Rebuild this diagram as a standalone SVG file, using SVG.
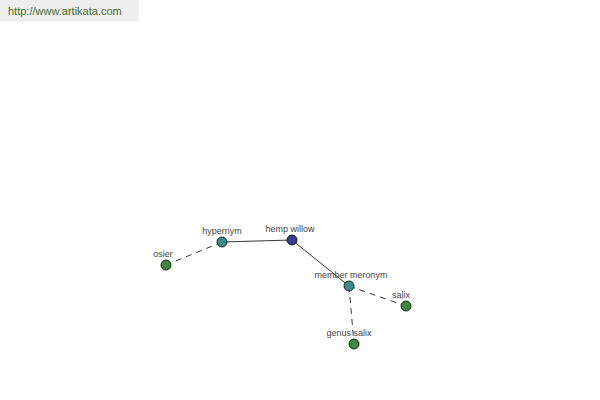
<svg xmlns="http://www.w3.org/2000/svg" width="600" height="400" viewBox="0 0 600 400">
<style>
.lbl{font-family:"Liberation Sans",Arial,sans-serif;font-size:9px;fill:#444;text-anchor:middle}
.e{stroke:#000;stroke-width:0.8;fill:none}
.d{stroke-dasharray:6,5}
.n{stroke:#000;stroke-width:0.8}
.root{fill:#3c3c8e}
.mid{fill:#3c8c8c}
.leaf{fill:#3c8a3c}
</style>
<rect x="0" y="0" width="139" height="21" fill="#eeeeee"/>
<text x="8" y="15" style="font-family:'Liberation Sans',Arial,sans-serif;font-size:11px;fill:#4a6a2a">http://www.artikata.com</text>
<g id="connectors">
<line class="e" x1="292" y1="240" x2="222" y2="242"/>
<line class="e" x1="292" y1="240" x2="349" y2="286"/>
<line class="e d" x1="222" y1="242" x2="166" y2="265"/>
<line class="e d" x1="349" y1="286" x2="406" y2="306"/>
<line class="e d" x1="349" y1="286" x2="354" y2="344"/>
</g>
<g id="hemp-willow"><circle class="n root" cx="292" cy="240" r="5"/><text class="lbl" x="290" y="232">hemp willow</text></g>
<g id="hypernym"><circle class="n mid" cx="222" cy="242" r="5"/><text class="lbl" x="222" y="234">hypernym</text></g>
<g id="osier"><circle class="n leaf" cx="166" cy="265" r="5"/><text class="lbl" x="163" y="257">osier</text></g>
<g id="member-meronym"><circle class="n mid" cx="349" cy="286" r="5"/><text class="lbl" x="351" y="278">member meronym</text></g>
<g id="salix"><circle class="n leaf" cx="406" cy="306" r="5"/><text class="lbl" x="401" y="298">salix</text></g>
<g id="genus-salix"><circle class="n leaf" cx="354" cy="344" r="5"/><text class="lbl" x="349" y="336">genus salix</text></g>
</svg>
